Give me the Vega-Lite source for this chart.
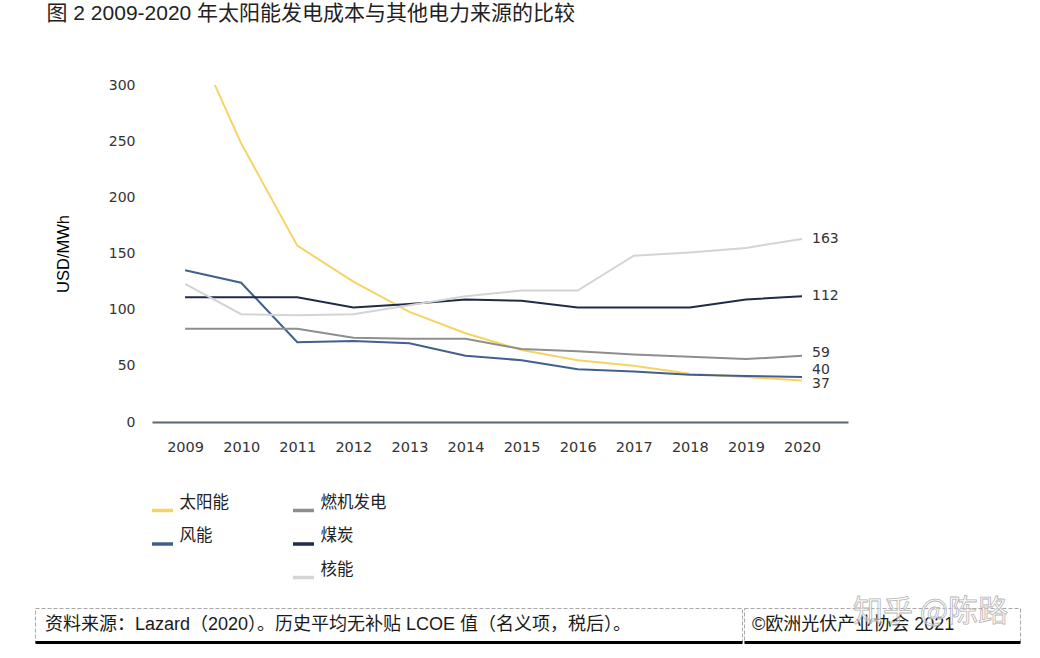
{
  "$schema": "https://vega.github.io/schema/vega-lite/v6.json",
  "background": "white",
  "padding": {"left": 34, "top": 3, "right": 10, "bottom": 5},
  "config": {"font": "Liberation Sans, Noto Sans CJK SC", "view": {"stroke": null}},
  "title": {"text": "图 2 2009-2020 年太阳能发电成本与其他电力来源的比较", "anchor": "start", "frame": "bounds", "dx": 12, "fontSize": 21, "fontWeight": "normal", "color": "#222", "offset": 54, "font": "Liberation Sans, Noto Sans CJK SC"},
  "datasets": {
    "lcoe": [
      {"year": 2009, "source": "太阳能", "cost": 359}, {"year": 2010, "source": "太阳能", "cost": 248}, {"year": 2011, "source": "太阳能", "cost": 157}, {"year": 2012, "source": "太阳能", "cost": 125}, {"year": 2013, "source": "太阳能", "cost": 98}, {"year": 2014, "source": "太阳能", "cost": 79}, {"year": 2015, "source": "太阳能", "cost": 64}, {"year": 2016, "source": "太阳能", "cost": 55}, {"year": 2017, "source": "太阳能", "cost": 50}, {"year": 2018, "source": "太阳能", "cost": 43}, {"year": 2019, "source": "太阳能", "cost": 40}, {"year": 2020, "source": "太阳能", "cost": 37},
      {"year": 2009, "source": "风能", "cost": 135}, {"year": 2010, "source": "风能", "cost": 124}, {"year": 2011, "source": "风能", "cost": 71}, {"year": 2012, "source": "风能", "cost": 72}, {"year": 2013, "source": "风能", "cost": 70}, {"year": 2014, "source": "风能", "cost": 59}, {"year": 2015, "source": "风能", "cost": 55}, {"year": 2016, "source": "风能", "cost": 47}, {"year": 2017, "source": "风能", "cost": 45}, {"year": 2018, "source": "风能", "cost": 42}, {"year": 2019, "source": "风能", "cost": 41}, {"year": 2020, "source": "风能", "cost": 40},
      {"year": 2009, "source": "燃机发电", "cost": 83}, {"year": 2010, "source": "燃机发电", "cost": 83}, {"year": 2011, "source": "燃机发电", "cost": 83}, {"year": 2012, "source": "燃机发电", "cost": 75}, {"year": 2013, "source": "燃机发电", "cost": 74}, {"year": 2014, "source": "燃机发电", "cost": 74}, {"year": 2015, "source": "燃机发电", "cost": 65}, {"year": 2016, "source": "燃机发电", "cost": 63}, {"year": 2017, "source": "燃机发电", "cost": 60}, {"year": 2018, "source": "燃机发电", "cost": 58}, {"year": 2019, "source": "燃机发电", "cost": 56}, {"year": 2020, "source": "燃机发电", "cost": 59},
      {"year": 2009, "source": "煤炭", "cost": 111}, {"year": 2010, "source": "煤炭", "cost": 111}, {"year": 2011, "source": "煤炭", "cost": 111}, {"year": 2012, "source": "煤炭", "cost": 102}, {"year": 2013, "source": "煤炭", "cost": 105}, {"year": 2014, "source": "煤炭", "cost": 109}, {"year": 2015, "source": "煤炭", "cost": 108}, {"year": 2016, "source": "煤炭", "cost": 102}, {"year": 2017, "source": "煤炭", "cost": 102}, {"year": 2018, "source": "煤炭", "cost": 102}, {"year": 2019, "source": "煤炭", "cost": 109}, {"year": 2020, "source": "煤炭", "cost": 112},
      {"year": 2009, "source": "核能", "cost": 123}, {"year": 2010, "source": "核能", "cost": 96}, {"year": 2011, "source": "核能", "cost": 95}, {"year": 2012, "source": "核能", "cost": 96}, {"year": 2013, "source": "核能", "cost": 104}, {"year": 2014, "source": "核能", "cost": 112}, {"year": 2015, "source": "核能", "cost": 117}, {"year": 2016, "source": "核能", "cost": 117}, {"year": 2017, "source": "核能", "cost": 148}, {"year": 2018, "source": "核能", "cost": 151}, {"year": 2019, "source": "核能", "cost": 155}, {"year": 2020, "source": "核能", "cost": 163}
    ]
  },
  "spacing": 11,
  "vconcat": [
    {
      "spacing": 0,
      "hconcat": [
        {"width": 20, "height": 10, "view": {"fill": "white", "stroke": null}, "data": {"values": [{}]}, "mark": {"type": "point", "opacity": 0}},
        {
          "width": 696,
          "height": 337,
          "data": {"name": "lcoe"},
          "encoding": {
            "x": {"field": "year", "type": "quantitative", "scale": {"domain": [2008.41, 2020.82], "nice": false, "zero": false},
              "axis": {"values": [2009, 2010, 2011, 2012, 2013, 2014, 2015, 2016, 2017, 2018, 2019, 2020], "format": "d", "title": null, "grid": false, "ticks": false, "domainColor": "#5A6673", "domainWidth": 2, "labelFont": "DejaVu Sans", "labelFontSize": 14.5, "labelColor": "#333333", "labelPadding": 18, "labelFlush": false, "labelOverlap": false}},
            "y": {"field": "cost", "type": "quantitative", "scale": {"domain": [0, 300], "nice": false},
              "axis": {"values": [0, 50, 100, 150, 200, 250, 300], "title": "USD/MWh", "grid": false, "domain": false, "ticks": false, "labelFont": "DejaVu Sans", "labelFontSize": 14, "labelColor": "#333333", "labelPadding": 17, "titleFont": "Liberation Sans", "titleFontSize": 16.5, "titleFontWeight": "normal", "titleColor": "#000000", "titlePadding": 37}}
          },
          "layer": [
            {
              "transform": [{"filter": {"field": "source", "oneOf": ["太阳能", "风能"]}}],
              "mark": {"type": "line", "clip": true, "strokeWidth": 2},
              "encoding": {"color": {"field": "source", "type": "nominal", "scale": {"domain": ["太阳能", "风能"], "range": ["#F5D462", "#41608F"]},
                "legend": {"orient": "none", "legendX": -2, "legendY": 413, "title": null, "direction": "vertical", "symbolType": "stroke", "symbolSize": 441, "symbolStrokeWidth": 3.5, "labelFont": "Noto Sans CJK SC", "labelFontSize": 16.5, "labelColor": "#222222", "labelOffset": 4.5, "rowPadding": 9.5, "labelBaseline": "bottom", "padding": 0}}}
            },
            {
              "transform": [{"filter": {"field": "source", "oneOf": ["燃机发电", "煤炭", "核能"]}}],
              "mark": {"type": "line", "clip": true, "strokeWidth": 2},
              "encoding": {"color": {"field": "source", "type": "nominal", "scale": {"domain": ["燃机发电", "煤炭", "核能"], "range": ["#8E8E8E", "#1F2B47", "#D4D4D4"]},
                "legend": {"orient": "none", "legendX": 139, "legendY": 413, "title": null, "direction": "vertical", "symbolType": "stroke", "symbolSize": 441, "symbolStrokeWidth": 3.5, "labelFont": "Noto Sans CJK SC", "labelFontSize": 16.5, "labelColor": "#222222", "labelOffset": 4.5, "rowPadding": 9.5, "labelBaseline": "bottom", "padding": 0}}}
            },
            {
              "transform": [{"filter": "datum.year == 2020 && (datum.source == '核能' || datum.source == '煤炭')"}],
              "mark": {"type": "text", "align": "left", "dx": 10, "font": "DejaVu Sans", "fontSize": 14, "color": "#333333"},
              "encoding": {"text": {"field": "cost", "type": "quantitative"}}
            },
            {
              "transform": [{"filter": "datum.year == 2020 && datum.source == '燃机发电'"}],
              "mark": {"type": "text", "align": "left", "dx": 10, "dy": -3, "font": "DejaVu Sans", "fontSize": 14, "color": "#333333"},
              "encoding": {"text": {"field": "cost", "type": "quantitative"}}
            },
            {
              "transform": [{"filter": "datum.year == 2020 && datum.source == '风能'"}],
              "mark": {"type": "text", "align": "left", "dx": 10, "dy": -7, "font": "DejaVu Sans", "fontSize": 14, "color": "#333333"},
              "encoding": {"text": {"field": "cost", "type": "quantitative"}}
            },
            {
              "transform": [{"filter": "datum.year == 2020 && datum.source == '太阳能'"}],
              "mark": {"type": "text", "align": "left", "dx": 10, "dy": 4, "font": "DejaVu Sans", "fontSize": 14, "color": "#333333"},
              "encoding": {"text": {"field": "cost", "type": "quantitative"}}
            }
          ],
          "resolve": {"scale": {"color": "independent"}, "legend": {"color": "independent"}}
        }
      ]
    },
    {
      "spacing": 0,
      "hconcat": [
        {
          "width": 707,
          "height": 34,
          "view": {"stroke": "#A8A8A8", "strokeDash": [4, 2], "strokeWidth": 1},
          "data": {"values": [{"t": "资料来源：Lazard（2020）。历史平均无补贴 LCOE 值（名义项，税后）。"}]},
          "mark": {"type": "text", "align": "left", "dx": 10, "fontSize": 18, "font": "Liberation Sans, Noto Sans CJK SC", "color": "#1A1A1A"},
          "encoding": {
            "text": {"field": "t", "type": "nominal"},
            "x": {"datum": 0, "type": "quantitative", "scale": {"domain": [0, 1]}, "axis": {"domainColor": "#000000", "domainWidth": 3, "labels": false, "ticks": false, "grid": false, "title": null}}
          }
        },
        {
          "width": 276,
          "height": 34,
          "view": {"stroke": "#A8A8A8", "strokeDash": [4, 2], "strokeWidth": 1},
          "data": {"values": [{"t": "©欧洲光伏产业协会 2021", "w": "知乎 @陈路"}]},
          "encoding": {
            "x": {"datum": 0, "type": "quantitative", "scale": {"domain": [0, 1]}, "axis": {"domainColor": "#000000", "domainWidth": 3, "labels": false, "ticks": false, "grid": false, "title": null}}
          },
          "layer": [
            {
              "mark": {"type": "text", "align": "left", "dx": 8, "fontSize": 18, "font": "Liberation Sans, Noto Sans CJK SC", "color": "#1A1A1A"},
              "encoding": {"text": {"field": "t", "type": "nominal"}}
            },
            {
              "mark": {"type": "text", "align": "left", "dy": -13, "fontSize": 30, "font": "Noto Sans CJK SC", "fill": "#FFFFFF", "fillOpacity": 0.5, "stroke": "#B5B5B5", "strokeWidth": 0.8},
              "encoding": {"x": {"datum": 0.395, "type": "quantitative"}, "text": {"field": "w", "type": "nominal"}}
            }
          ]
        }
      ]
    }
  ]
}
